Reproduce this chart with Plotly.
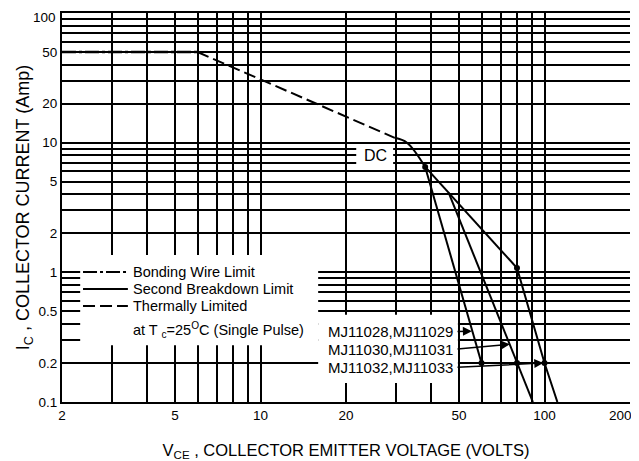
import math
import plotly.graph_objects as go

# ---------------- data ----------------
# Bonding wire limit
bond_v = [2, 6]
bond_i = [50, 50]
# Thermally limited (constant power)
thermal_v = [6, 29.7]
thermal_i = [50, 10.9]
# Second breakdown limit, DC
dc_v = [29.7, 32.8, 38]
dc_i = [10.9, 10.0, 6.5]
# Second breakdown limits (pulse lines)
sb_a_v = [38, 60]
sb_a_i = [6.5, 0.2]
sb_top_v = [38, 80]
sb_top_i = [6.5, 1.08]
sb_b_v = [46, 80, 91]
sb_b_i = [4.1, 0.2, 0.1]
sb_c_v = [80, 100, 111]
sb_c_i = [1.08, 0.2, 0.1]
# marked points
dot_v = [38, 80, 60, 80, 100]
dot_i = [6.5, 1.08, 0.2, 0.2, 0.2]

# device labels and the points their arrows touch
mj_labels = ["MJ11028,MJ11029", "MJ11030,MJ11031", "MJ11032,MJ11033"]
mj_label_v = 48.5
mj_label_i = [0.35, 0.256, 0.185]
mj_head_v = [55.5, 75.5, 99]
mj_head_i = [0.352, 0.279, 0.2]

# legend entries
legend_names = ["Bonding Wire Limit", "Second Breakdown Limit", "Thermally Limited"]
legend_dash = ["14px,3px,3px,3px", "solid", "12px,5px"]
legend_note = "at T <sub>c</sub>=25<sup>O</sup>C (Single Pulse)"

# axes (labels at the two frame corners are drawn as annotations so they stay inside the page)
x_tickvals = [2, 3, 4, 5, 6, 7, 8, 9, 10, 20, 30, 40, 50, 60, 70, 80, 90, 100, 200]
x_ticktext = ["2", "", "", "5", "", "", "", "", "10", "20", "", "", "50", "", "", "", "", "100", "200"]
y_tickvals = [0.1, 0.2, 0.3, 0.4, 0.5, 0.6, 0.7, 0.8, 0.9,
              1, 2, 3, 4, 5, 6, 7, 8, 9,
              10, 20, 30, 40, 50, 60, 70, 80, 90, 100]
y_ticktext = ["0.1", "0.2", "", "", "0.5", "", "", "", "",
              "1", "2", "", "", "5", "", "", "", "",
              "10", "20", "", "", "50", "", "", "", "", "100"]

FONT = "Liberation Sans, Arial, sans-serif"
LW = 2
TICKFONT = dict(family=FONT, size=13.5, color="black")

fig = go.Figure()

fig.add_trace(go.Scatter(x=bond_v, y=bond_i, mode="lines", name=legend_names[0], showlegend=False,
                         line=dict(color="black", width=2.6, dash=legend_dash[0])))
fig.add_trace(go.Scatter(x=dc_v, y=dc_i, mode="lines", name=legend_names[1], showlegend=False,
                         line=dict(color="black", width=LW, shape="spline")))
fig.add_trace(go.Scatter(x=thermal_v, y=thermal_i, mode="lines", name=legend_names[2], showlegend=False,
                         line=dict(color="black", width=LW, dash=legend_dash[2])))
for vv, ii in [(sb_a_v, sb_a_i), (sb_top_v, sb_top_i), (sb_b_v, sb_b_i), (sb_c_v, sb_c_i)]:
    fig.add_trace(go.Scatter(x=vv, y=ii, mode="lines", showlegend=False,
                             line=dict(color="black", width=LW)))
fig.add_trace(go.Scatter(x=dot_v, y=dot_i, mode="markers", showlegend=False,
                         marker=dict(color="black", size=6)))

# white areas hiding the grid behind the texts
for x0, x1, y0, y1 in [(0.032, 0.451, 0.146, 0.378), (0.451, 0.697, 0.049, 0.224),
                       (0.518, 0.583, 0.607, 0.661)]:
    fig.add_shape(type="rect", xref="paper", yref="paper", x0=x0, x1=x1, y0=y0, y1=y1,
                  fillcolor="white", line=dict(width=0), layer="above")

# hand-drawn legend
leg_y = [0.334, 0.2905, 0.2468]
for name, dash, yy in zip(legend_names, legend_dash, leg_y):
    fig.add_shape(type="line", xref="paper", yref="paper", x0=0.037, x1=0.116, y0=yy, y1=yy,
                  line=dict(color="black", width=LW, dash=dash), layer="above")
    fig.add_annotation(x=0.121, y=yy, xref="paper", yref="paper", xanchor="left", yanchor="middle",
                       text=name, showarrow=False, font=dict(family=FONT, size=14.5, color="black"))
fig.add_annotation(x=0.121, y=0.185, xref="paper", yref="paper", xanchor="left", yanchor="middle",
                   text=legend_note, showarrow=False,
                   font=dict(family=FONT, size=14.5, color="black"))

# device labels
for lab, li, hv, hi in zip(mj_labels, mj_label_i, mj_head_v, mj_head_i):
    fig.add_annotation(x=math.log10(mj_label_v), y=math.log10(li), xref="x", yref="y",
                       text=lab, showarrow=False, xanchor="right", yanchor="middle",
                       font=dict(family=FONT, size=15, color="black"))
    fig.add_annotation(x=math.log10(hv), y=math.log10(hi), xref="x", yref="y",
                       ax=math.log10(mj_label_v + 0.3), ay=math.log10(li), axref="x", ayref="y",
                       text="", showarrow=True, arrowhead=2, arrowsize=1.2, arrowwidth=1.5,
                       arrowcolor="black", standoff=0)

fig.add_annotation(x=math.log10(25.5), y=math.log10(7.9), xref="x", yref="y", text="DC",
                   showarrow=False, font=dict(family=FONT, size=16, color="black"))

# corner tick labels (last x tick, top y tick)
fig.add_annotation(x=math.log10(x_tickvals[-1]), y=0, xref="x", yref="paper",
                   text=x_ticktext[-1], showarrow=False, xanchor="right", yanchor="top",
                   xshift=4, yshift=-4, font=TICKFONT)
fig.add_annotation(x=0, y=math.log10(y_tickvals[-1]), xref="paper", yref="y",
                   text=y_ticktext[-1], showarrow=False, xanchor="right", yanchor="middle",
                   xshift=-4, yshift=-4, font=TICKFONT)
x_axis_text = x_ticktext[:-1] + [""]
y_axis_text = y_ticktext[:-1] + [""]

fig.update_xaxes(type="log", range=[math.log10(2), math.log10(200)], automargin=False,
                 tickmode="array", tickvals=x_tickvals, ticktext=x_axis_text,
                 showgrid=True, gridcolor="black", gridwidth=1.5,
                 showline=True, linecolor="black", linewidth=2, mirror=True,
                 ticks="", tickfont=TICKFONT,
                 zeroline=False,
                 title=dict(text="V<sub>CE</sub> , COLLECTOR EMITTER VOLTAGE (VOLTS)",
                            font=dict(family=FONT, size=16.5, color="black"), standoff=22))
fig.update_yaxes(type="log", range=[-1, 2], automargin=False,
                 tickmode="array", tickvals=y_tickvals, ticktext=y_axis_text,
                 showgrid=True, gridcolor="black", gridwidth=1.5,
                 showline=True, linecolor="black", linewidth=2, mirror=False,
                 ticks="", tickfont=TICKFONT,
                 zeroline=False,
                 title=dict(text="I<sub>C</sub> , COLLECTOR CURRENT (Amp)",
                            font=dict(family=FONT, size=18, color="black"), standoff=4))

# the page body has an 8px margin; the figure is sized so the visible frame matches
fig.update_layout(width=631, height=453, margin=dict(l=54, r=9, t=5, b=59),
                  paper_bgcolor="white", plot_bgcolor="white", showlegend=False)

fig.write_html("out.html")
